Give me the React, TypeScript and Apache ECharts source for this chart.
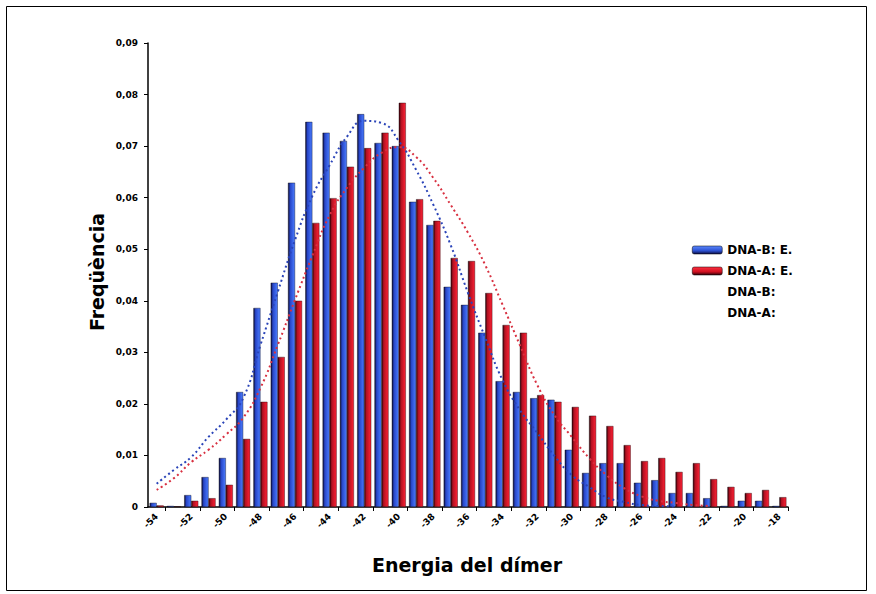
import React, { useEffect, useRef } from "react";
import * as echarts from "echarts";

const categories = [
  "-54", "-53", "-52", "-51", "-50", "-49", "-48", "-47", "-46", "-45",
  "-44", "-43", "-42", "-41", "-40", "-39", "-38", "-37", "-36", "-35",
  "-34", "-33", "-32", "-31", "-30", "-29", "-28", "-27", "-26", "-25",
  "-24", "-23", "-22", "-21", "-20", "-19", "-18",
];

const seriesNames = ["DNA-B: E.", "DNA-A: E.", "DNA-B:", "DNA-A:"];

const blueBars = [
  0.0008, 0.0002, 0.0023, 0.0058, 0.0095, 0.0223, 0.0386, 0.0435, 0.0629, 0.0747,
  0.0726, 0.071, 0.0762, 0.0706, 0.07, 0.0592, 0.0547, 0.0427, 0.0392, 0.0338,
  0.0244, 0.0223, 0.0211, 0.0208, 0.0111, 0.0066, 0.0085, 0.0085, 0.0047, 0.0052,
  0.0027, 0.0027, 0.0017, 0.0002, 0.0012, 0.0012, 0.0002,
];

const redBars = [
  0.0003, 0.0001, 0.0012, 0.0017, 0.0043, 0.0132, 0.0204, 0.0291, 0.04, 0.0551,
  0.0599, 0.066, 0.0696, 0.0726, 0.0784, 0.0597, 0.0555, 0.0483, 0.0477, 0.0415,
  0.0353, 0.0338, 0.0217, 0.0204, 0.0194, 0.0177, 0.0157, 0.012, 0.0089, 0.0095,
  0.0068, 0.0085, 0.0054, 0.0039, 0.0027, 0.0033, 0.0019,
];

const blueFit = [
  0.0045, 0.0072, 0.0097, 0.0136, 0.0169, 0.0211, 0.0314, 0.0417, 0.0518, 0.0603,
  0.0663, 0.0718, 0.0749, 0.0745, 0.071, 0.0654, 0.0586, 0.0508, 0.0415, 0.0328,
  0.0246, 0.0188, 0.0144, 0.0099, 0.0062, 0.0039, 0.0019, 0.001, 0.0004, 0.0002,
  0.0001,
];

const redFit = [
  0.0033, 0.0056, 0.0087, 0.0111, 0.014, 0.0173, 0.0231, 0.0314, 0.0402, 0.0487,
  0.0566, 0.0619, 0.0658, 0.0687, 0.0698, 0.0679, 0.0638, 0.0586, 0.0532, 0.0469,
  0.0392, 0.0314, 0.0237, 0.0178, 0.0136, 0.0095, 0.0062, 0.0037, 0.0021, 0.0012,
  0.0008, 0.0004, 0.0002,
];

const FONT = "DejaVu Sans";

function hGrad(stops: [number, string][]) {
  return new echarts.graphic.LinearGradient(
    0, 0, 1, 0,
    stops.map(([offset, color]) => ({ offset, color }))
  );
}
function vGrad(stops: [number, string][]) {
  return new echarts.graphic.LinearGradient(
    0, 0, 0, 1,
    stops.map(([offset, color]) => ({ offset, color }))
  );
}

export default function App() {
  const ref = useRef<HTMLDivElement>(null);

  useEffect(() => {
    if (!ref.current) return;
    const chart = echarts.init(ref.current, undefined, { renderer: "svg" });

    const blueFill = hGrad([
      [0, "#0b0b33"],
      [0.3, "#2846c8"],
      [1, "#4a7cff"],
    ]);
    const redFill = hGrad([
      [0, "#2e0008"],
      [0.3, "#b01222"],
      [1, "#ff2034"],
    ]);

    chart.setOption({
      animation: false,
      backgroundColor: "#ffffff",
      grid: { left: 148, right: 88, top: 43, bottom: 87, containLabel: false },
      legend: {
        orient: "vertical",
        left: 687,
        top: 239,
        itemWidth: 30,
        itemHeight: 8,
        itemGap: 9,
        textStyle: { fontFamily: FONT, fontSize: 12, fontWeight: "bold", color: "#000" },
        data: [
          {
            name: seriesNames[0],
            itemStyle: {
              color: vGrad([[0, "#5a88ff"], [0.6, "#2c50d0"], [1, "#0b0b40"]]),
              borderColor: "#000",
              borderWidth: 0.5,
            },
          },
          {
            name: seriesNames[1],
            itemStyle: {
              color: vGrad([[0, "#ff3040"], [0.6, "#d01020"], [1, "#300008"]]),
              borderColor: "#000",
              borderWidth: 0.5,
            },
          },
          { name: seriesNames[2], icon: "none" },
          { name: seriesNames[3], icon: "none" },
        ],
      },
      xAxis: {
        type: "category",
        data: categories,
        boundaryGap: true,
        axisLine: { show: true, lineStyle: { color: "#000", width: 1.5 } },
        axisTick: {
          show: true,
          length: 4,
          interval: (index: number) => index % 2 === 1,
          lineStyle: { color: "#000" },
        },
        axisLabel: {
          interval: 1,
          rotate: 45,
          margin: 8,
          fontFamily: FONT,
          fontSize: 9,
          fontWeight: "bold",
          color: "#000",
        },
        splitLine: { show: false },
      },
      yAxis: {
        type: "value",
        min: 0,
        max: 0.09,
        interval: 0.01,
        axisLine: { show: true, lineStyle: { color: "#000", width: 1.5 } },
        axisTick: { show: true, length: 4, lineStyle: { color: "#000" } },
        axisLabel: {
          margin: 10,
          fontFamily: FONT,
          fontSize: 9,
          fontWeight: "bold",
          color: "#000",
          formatter: (v: number) => (v === 0 ? "0" : v.toFixed(2).replace(".", ",")),
        },
        splitLine: { show: false },
      },
      series: [
        {
          name: seriesNames[0],
          type: "bar",
          data: blueBars,
          barWidth: 7,
          barGap: "0%",
          itemStyle: { color: blueFill, borderColor: "#05051a", borderWidth: 0.4 },
          z: 2,
        },
        {
          name: seriesNames[1],
          type: "bar",
          data: redBars,
          barWidth: 7,
          barGap: "0%",
          itemStyle: { color: redFill, borderColor: "#1a0004", borderWidth: 0.4 },
          z: 2,
        },
        {
          name: seriesNames[2],
          type: "line",
          data: blueFit,
          smooth: true,
          symbol: "none",
          lineStyle: { color: "#2a44b8", width: 2, type: [2, 3] },
          itemStyle: { color: "#2a44b8" },
          z: 5,
        },
        {
          name: seriesNames[3],
          type: "line",
          data: redFit,
          smooth: true,
          symbol: "none",
          lineStyle: { color: "#d83040", width: 2, type: [2, 3] },
          itemStyle: { color: "#d83040" },
          z: 5,
        },
      ],
      graphic: [
        {
          type: "rect",
          shape: { x: 6.5, y: 6.5, width: 860, height: 584 },
          style: { fill: "none", stroke: "#000", lineWidth: 1 },
          z: 0,
        },
        {
          type: "text",
          x: 97,
          y: 272,
          rotation: Math.PI / 2,
          style: {
            text: "Freqüència",
            fontFamily: FONT,
            fontSize: 19,
            fontWeight: "bold",
            fill: "#000",
            textAlign: "center",
            textVerticalAlign: "middle",
          },
        },
        {
          type: "text",
          x: 467,
          y: 565,
          style: {
            text: "Energia del dímer",
            fontFamily: FONT,
            fontSize: 19,
            fontWeight: "bold",
            fill: "#000",
            textAlign: "center",
            textVerticalAlign: "middle",
          },
        },
      ],
    });

    return () => {
      chart.dispose();
    };
  }, []);

  return (
    <div
      ref={ref}
      style={{ position: "absolute", left: 0, top: 0, width: 876, height: 594 }}
    />
  );
}
